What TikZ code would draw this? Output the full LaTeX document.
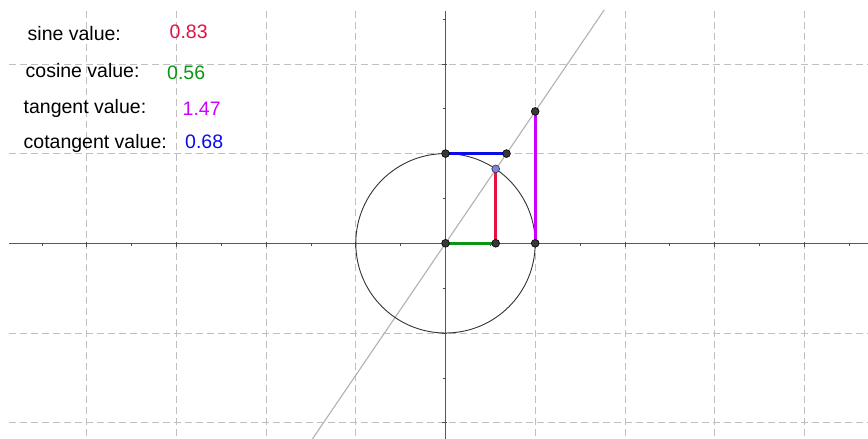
\documentclass[tikz,border=0pt]{standalone}
\usepackage{fontspec}
\setmainfont{Liberation Sans}
\definecolor{sinred}{RGB}{228,18,66}
\definecolor{cosgreen}{RGB}{10,150,20}
\definecolor{tanmag}{RGB}{204,0,255}
\definecolor{cotblue}{RGB}{10,10,235}
\definecolor{ptblue}{RGB}{130,130,230}
\pgfdeclarelayer{front}
\pgfsetlayers{main,front}
\begin{document}
\begin{tikzpicture}[x=1pt,y=-1pt,
  gridline/.style={draw=black!25, dash pattern=on 7pt off 4pt, line width=0.8pt},
  axisline/.style={draw=black!65, line width=1.1pt},
  tick/.style={draw=black!70, line width=0.7pt},
  dot/.style={circle, fill=black!78, draw=black, line width=0.6pt, inner sep=0pt, minimum size=7.8pt},
  lbl/.style={anchor=base west, font=\fontsize{19.5}{22}\selectfont, inner sep=0pt},
  seg/.style={line width=2.9pt}
]
\useasboundingbox (0,0) rectangle (868,439);
\fill[white] (0,0) rectangle (868,439);
% grid
\foreach \gx in {86.7,176.4,266.1,355.8,535.2,624.9,714.6,804.3}
  \draw[gridline] (\gx,11) -- (\gx,439);
\foreach \gy in {63.9,153.6,333,422.7}
  \draw[gridline] (9,\gy) -- (868,\gy);
% axes
\coordinate (xl) at (9,243.3);
\coordinate (xr) at (868,243.3);
\coordinate (yt) at (445.5,11);
\coordinate (yb) at (445.5,439);
\draw[axisline] (xl) -- (xr);
\draw[axisline] (yt) -- (yb);
% ticks
\foreach \tx in {41.85,131.55,221.25,310.95,400.65,490.35,580.05,669.75,759.45,849.15}
  \draw[tick] (\tx,243.3) -- (\tx,246.3);
\foreach \tx in {86.7,176.4,266.1,355.8,535.2,624.9,714.6,804.3}
  \draw[tick] (\tx,242) -- (\tx,247);
\foreach \ty in {19.05,108.75,198.45,288.15,377.85}
  \draw[tick] (442.5,\ty) -- (445.5,\ty);
\foreach \ty in {63.9,153.6,333,422.7}
  \draw[tick] (441.5,\ty) -- (447,\ty);
% tangent line through origin
\coordinate (tA) at (312.4,439);
\coordinate (tB) at (604.2,10);
\draw[black!30, line width=1.1pt] (tA) -- (tB);
% unit circle
\coordinate (O) at (445.5,243.3);
\draw[black!80, line width=0.9pt] (O) circle (89.7pt);
% points (on front layer)
\begin{pgfonlayer}{front}
\node[dot] (pO) at (445.5,243.3) {};
\node[dot] (pY) at (445.5,153.6) {};
\node[dot] (pC) at (495.7,243.3) {};
\node[dot] (pT1) at (535.2,243.3) {};
\node[dot] (pT) at (535.2,111.4) {};
\node[dot] (pK) at (506.5,153.6) {};
\node[dot, fill=ptblue, draw=black!80] (pS) at (495.7,168.9) {};
\end{pgfonlayer}
% segments
\draw[seg, cotblue] (pY.center) -- (pK.center);
\draw[seg, sinred] (pC.center) -- (pS.center);
\draw[seg, cosgreen] (pO.center) -- (pC.center);
\draw[seg, tanmag] (pT1.center) -- (pT.center);
% labels
\node[lbl] (l1) at (27.5,40) {sine value:};
\node[lbl, text=sinred] (v1) at (169.5,38) {0.83};
\node[lbl] (l2) at (25.5,77) {cosine value:};
\node[lbl, text=cosgreen] (v2) at (167,79.5) {0.56};
\node[lbl] (l3) at (23.5,113) {tangent value:};
\node[lbl, text=tanmag] (v3) at (182.5,115) {1.47};
\node[lbl] (l4) at (23.5,148) {cotangent value:};
\node[lbl, text=cotblue] (v4) at (185,148) {0.68};
\end{tikzpicture}
\end{document}
